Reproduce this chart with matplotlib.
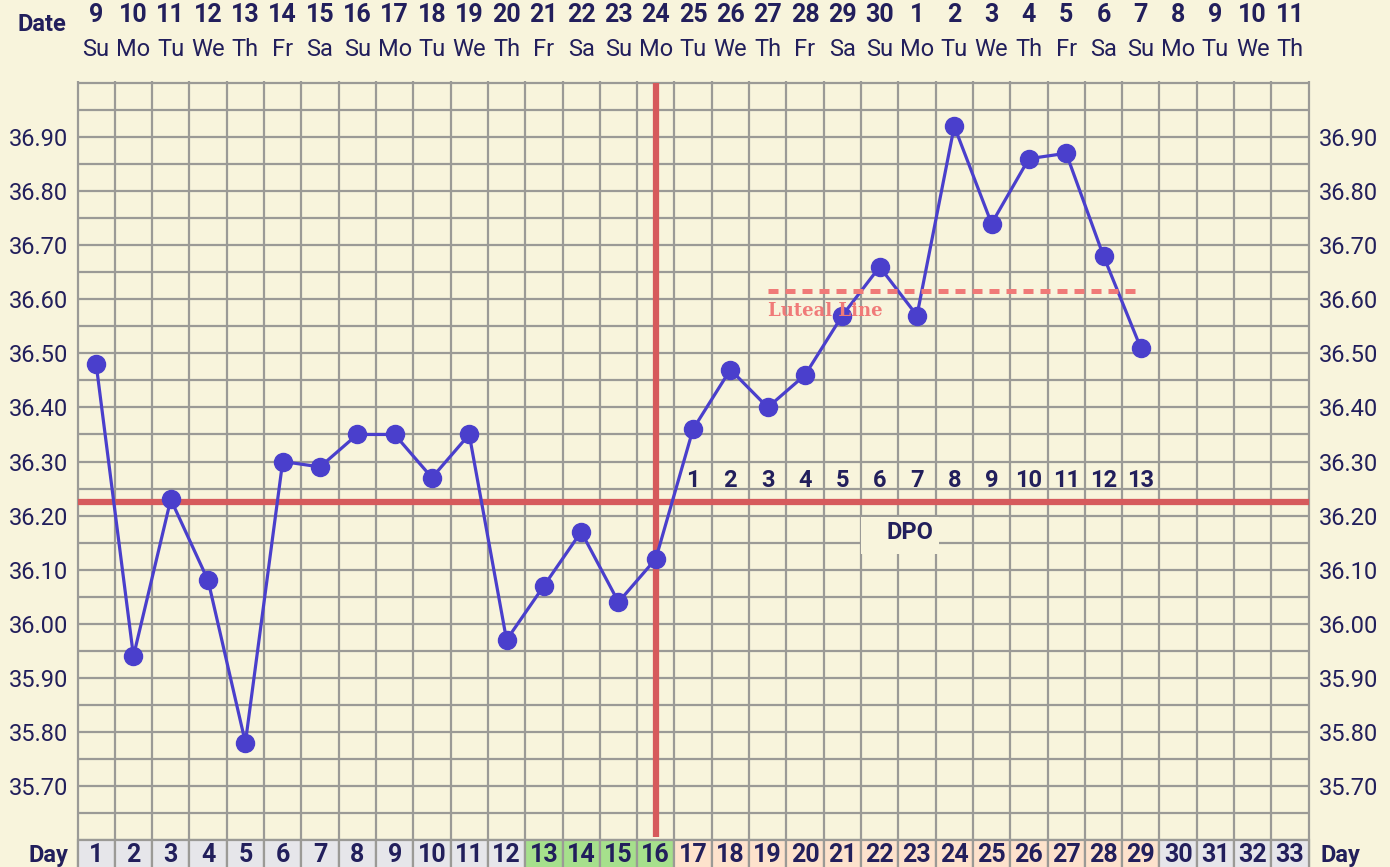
import matplotlib
matplotlib.use('Agg')
import matplotlib.pyplot as plt
from matplotlib.patches import Rectangle

# ---------------- data ----------------
days = list(range(1, 34))
dates = list(range(9, 31)) + list(range(1, 12))
weekdays = (['Su', 'Mo', 'Tu', 'We', 'Th', 'Fr', 'Sa'] * 5)[:33]
temp_days = list(range(1, 30))
temps = [36.48, 35.94, 36.23, 36.08, 35.78, 36.30, 36.29, 36.35, 36.35, 36.27,
         36.35, 35.97, 36.07, 36.17, 36.04, 36.12, 36.36, 36.47, 36.40, 36.46,
         36.57, 36.66, 36.57, 36.92, 36.74, 36.86, 36.87, 36.68, 36.51]
coverline = 36.225
ovulation_day = 16
luteal_value = 36.615
luteal_start, luteal_end = 19, 29
dpo_days = list(range(17, 30))
dpo_labels = [str(i) for i in range(1, 14)]
fertile_days = [13, 14, 15, 16]
luteal_days = list(range(17, 30))
y_ticks = [35.70, 35.80, 35.90, 36.00, 36.10, 36.20, 36.30, 36.40, 36.50,
           36.60, 36.70, 36.80, 36.90]

# ---------------- style ----------------
BG = '#f8f4dc'
GRID = '#9b9a96'
TXT = '#221f5c'
RED = '#d65a5c'
LINE = '#4a3fcc'
SALMON = '#f07a78'
GRAY_CELL = '#e6e6ea'
GREEN_CELL = '#a6e08c'
PEACH_CELL = '#fde2cc'

plt.rcParams['font.family'] = ['Roboto', 'DejaVu Sans']

fig = plt.figure(figsize=(13.9, 8.67), dpi=100, facecolor=BG)
ax = fig.add_axes([77.5 / 1390, 1 - 840 / 867, (1308.7 - 77.5) / 1390, (840 - 83) / 867])
ax.set_facecolor(BG)
ymin, ymax = 35.60, 37.00
ax.set_xlim(0.5, 33.5)
ax.set_ylim(ymin, ymax)
for s in ax.spines.values():
    s.set_visible(False)
ax.set_xticks([])

# y tick labels on both sides
ax.set_yticks(y_ticks)
ax.set_yticklabels([f'{v:.2f}' for v in y_ticks])
ax.tick_params(axis='y', length=0, pad=7, labelsize=17, labelcolor=TXT,
               labelright=True, labelleft=True)

# grid
px = 0.1 / 53.9  # one pixel in data units (y)
cell_h = 0.07
k = 0
while True:
    yv = round(ymin + 0.05 * k, 2)
    if yv > ymax + 1e-9:
        break
    ax.plot([0.5, 33.5], [yv, yv], color=GRID, lw=1.6, zorder=1, clip_on=False,
            solid_capstyle='butt')
    k += 1
for i in range(34):
    xv = 0.5 + i
    ax.plot([xv, xv], [ymin - cell_h, ymax + 2 * px], color=GRID, lw=1.6, zorder=1,
            clip_on=False, solid_capstyle='butt')

# day cells
for d in days:
    if d in fertile_days:
        c = GREEN_CELL
    elif d in luteal_days:
        c = PEACH_CELL
    else:
        c = GRAY_CELL
    ax.add_patch(Rectangle((d - 0.5, ymin - cell_h), 1, cell_h, facecolor=c,
                           edgecolor=GRID, lw=1.6, clip_on=False, zorder=1.5))
    ax.text(d, ymin - 15 * px, str(d), ha='center', va='center', fontsize=18,
            fontweight='bold', color=TXT, clip_on=False, zorder=6)
ax.text(-0.29, ymin - 15 * px, 'Day', ha='center', va='center', fontsize=17,
        fontweight='bold', color=TXT, clip_on=False)
ax.text(34.35, ymin - 15 * px, 'Day', ha='center', va='center', fontsize=17,
        fontweight='bold', color=TXT, clip_on=False)

# top date rows
for d, dt, wd in zip(days, dates, weekdays):
    ax.text(d, ymax + 68 * px, str(dt), ha='center', va='center', fontsize=18,
            fontweight='bold', color=TXT, clip_on=False)
    ax.text(d, ymax + 33 * px, wd, ha='center', va='center', fontsize=17,
            color=TXT, clip_on=False)
ax.text(-0.45, ymax + 58 * px, 'Date', ha='center', va='center', fontsize=17,
        fontweight='bold', color=TXT, clip_on=False)

# coverline & ovulation line
ax.plot([0.5, 33.5], [coverline, coverline], color=RED, lw=4.5, zorder=2,
        solid_capstyle='butt')
ax.plot([ovulation_day, ovulation_day], [ymin + 3 * px, ymax], color=RED, lw=4.5,
        zorder=2, solid_capstyle='butt', clip_on=False)

# temperature curve
ax.plot(temp_days, temps, color=LINE, lw=2.3, marker='o', markersize=13,
        markerfacecolor=LINE, markeredgecolor=LINE, zorder=4)

# luteal line (drawn above the curve)
ax.plot([luteal_start, luteal_end], [luteal_value, luteal_value], color=SALMON,
        lw=3.6, ls=(0, (2.0, 1.4)), zorder=5, solid_capstyle='butt',
        dash_capstyle='butt')
ax.text(luteal_start, luteal_value - 20 * px, 'Luteal Line', ha='left', va='center',
        fontsize=13, fontweight='bold', color=SALMON,
        family=['DejaVu Serif', 'Liberation Serif'], zorder=6)

# DPO labels
for d, lab in zip(dpo_days, dpo_labels):
    ax.text(d, coverline + 21 * px, lab, ha='center', va='center', fontsize=17,
            fontweight='bold', color=TXT, zorder=6)
ax.add_patch(Rectangle((21.5, coverline - 52 * px), 2.1, 37 * px, facecolor=BG,
                       edgecolor='none', zorder=2.5))
ax.text(22.82, coverline - 30 * px, 'DPO', ha='center', va='center', fontsize=17,
        fontweight='bold', color=TXT, zorder=6)

fig.savefig('out.png', dpi=100, facecolor=BG)
